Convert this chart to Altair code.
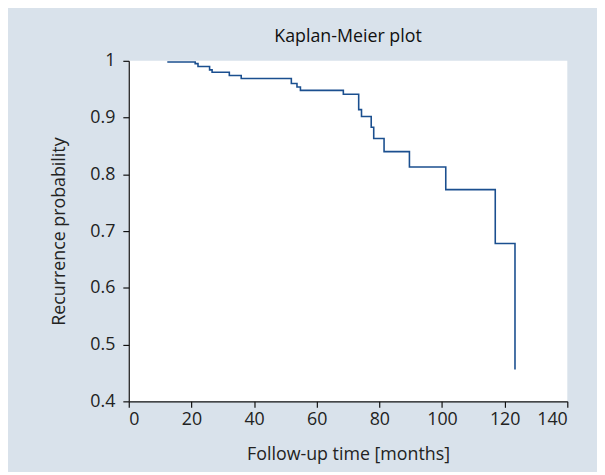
import altair as alt
import pandas as pd

months = [12.3, 21.2, 22.1, 25.8, 26.6, 32.1, 35.9, 51.9, 53.7, 54.8, 68.5,
          73.4, 74.3, 77.4, 78.2, 81.5, 89.6, 101.2, 117.0, 123.3]
survival = [0.998, 0.995, 0.99, 0.984, 0.98, 0.974, 0.969, 0.96, 0.954, 0.948, 0.941,
            0.914, 0.902, 0.883, 0.863, 0.840, 0.813, 0.773, 0.678, 0.456]
x_ticks = [0, 20, 40, 60, 80, 100, 120, 140]
y_ticks = [0.4, 0.5, 0.6, 0.7, 0.8, 0.9, 1.0]

df = pd.DataFrame({"t": months, "s": survival})

FONT = "Open Sans"
FS = 18

chart = alt.Chart(df).mark_line(
    interpolate="step-after", color="#1b4f8f", strokeWidth=1.6
).encode(
    x=alt.X("t:Q", scale=alt.Scale(domain=[0, 140], nice=False),
            axis=alt.Axis(values=x_ticks, title="Follow-up time [months]", grid=False,
                          labelPadding=3, titlePadding=18)),
    y=alt.Y("s:Q", scale=alt.Scale(domain=[0.4, 1.0], nice=False, zero=False),
            axis=alt.Axis(values=y_ticks, format=".1~f", title="Recurrence probability",
                          grid=False, labelPadding=8, titlePadding=22)),
).properties(
    width=443, height=344,
    title=alt.TitleParams("Kaplan-Meier plot", fontSize=FS, fontWeight="normal",
                          font=FONT, color="#111", offset=6),
    background="#d9e2eb",
    padding={"left": 42, "top": 18, "right": 29, "bottom": 6},
).configure_view(
    fill="white", stroke=None
).configure_axis(
    domainColor="#111", tickColor="#111", tickSize=6, domainWidth=1.2, tickWidth=1.2,
    labelFont=FONT, labelFontSize=FS, labelColor="#222",
    titleFont=FONT, titleFontSize=FS, titleFontWeight="normal", titleColor="#222",
)

chart.save("out.html", embed_options={"renderer": "svg", "actions": False})
